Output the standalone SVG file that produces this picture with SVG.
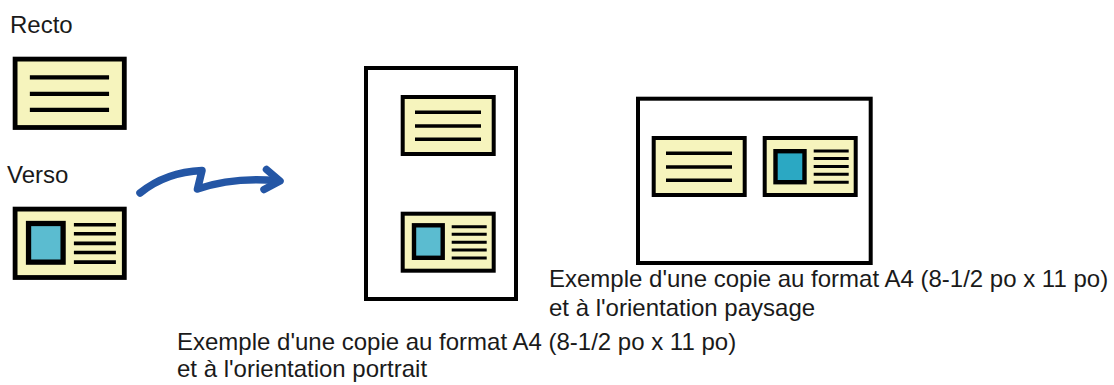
<svg xmlns="http://www.w3.org/2000/svg" xmlns:xlink="http://www.w3.org/1999/xlink" width="1114" height="385" viewBox="0 0 1114 385">
<style>
  text{font-family:"Liberation Sans",Arial,sans-serif;font-size:24px;fill:#1a1a1a}
  .page{fill:#fff;stroke:#000;stroke-width:4}
  .card{fill:#f6f4bd;stroke:#000;stroke-width:4}
  .ln{stroke:#000;stroke-width:3.6;fill:none}
  .ln2{stroke:#000;stroke-width:3;fill:none}
  .frame{stroke:#000;stroke-width:4.4}
  .arrow{fill:none;stroke:#2456a5;stroke-width:7.5;stroke-linecap:round;stroke-linejoin:round}
</style>
<defs>
  <g id="recto">
    <rect class="card" x="2" y="2" width="91" height="57"/>
    <path class="ln" d="M14.3 17.3H80.3M14.3 31H80.3M14.3 44.3H80.3"/>
  </g>
  <g id="versoBase">
    <rect class="card" x="2" y="2" width="91" height="57"/>
    <path class="ln2" d="M51 15H86M51 22.6H86M51 30.6H86M51 38.2H86M51 46.2H86"/>
  </g>
</defs>
<g id="recto-source">
  <text x="10" y="33">Recto</text>
  <use xlink:href="#recto" transform="translate(12.7,56.7) scale(1.2)"/>
</g>
<g id="verso-source">
  <text x="7" y="183">Verso</text>
  <g transform="translate(12.7,206.7) scale(1.2)">
    <use xlink:href="#versoBase"/>
    <rect class="frame" x="13.2" y="14" width="28.8" height="32.2" fill="#5bbcd0"/>
  </g>
</g>
<g id="portrait-page">
  <rect class="page" x="366" y="68" width="150" height="231"/>
  <use xlink:href="#recto" transform="translate(400.7,95)"/>
  <g transform="translate(400.7,211.7)">
    <use xlink:href="#versoBase"/>
    <rect class="frame" x="13.3" y="13.6" width="28.7" height="32.5" fill="#5bbcd0"/>
  </g>
</g>
<g id="landscape-page">
  <rect class="page" x="638" y="98.7" width="232.7" height="164.3"/>
  <use xlink:href="#recto" transform="translate(651.7,136)"/>
  <g transform="translate(762.7,136)">
    <use xlink:href="#versoBase"/>
    <rect class="frame" x="12.8" y="15.2" width="29" height="31" fill="#2ba8c3"/>
  </g>
</g>
<g id="label-landscape">
  <text x="549" y="287">Exemple d'une copie au format A4 (8-1/2 po x 11 po)</text>
  <text x="549" y="316">et à l'orientation paysage</text>
</g>
<g id="label-portrait">
  <text x="177" y="350">Exemple d'une copie au format A4 (8-1/2 po x 11 po)</text>
  <text x="177" y="377">et à l'orientation portrait</text>
</g>
<g id="connectors">
  <path class="arrow" d="M140 193Q166 172 202 170.5L197.5 189Q232 177 276 180.5"/>
  <path class="arrow" d="M266.5 169.5L280 181L264 189.5"/>
</g>
</svg>
